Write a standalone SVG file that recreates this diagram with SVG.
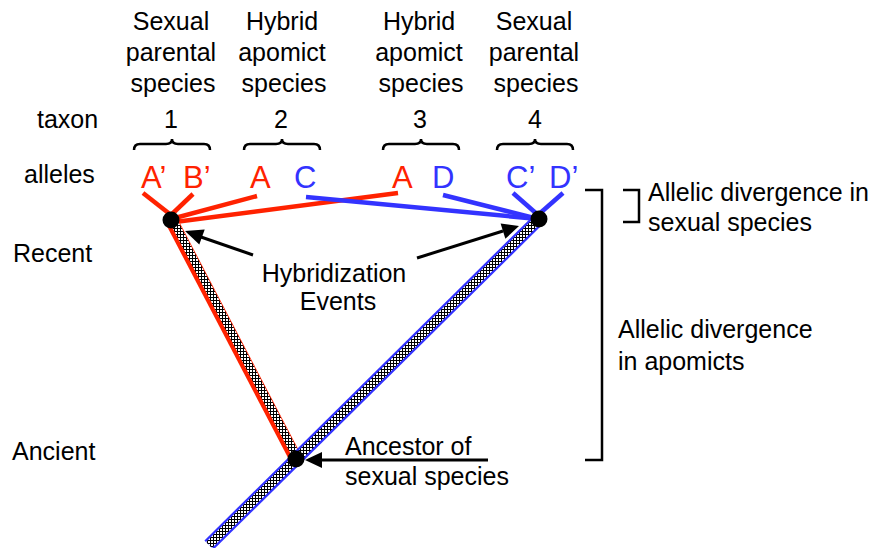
<svg xmlns="http://www.w3.org/2000/svg" width="879" height="548" viewBox="0 0 879 548">
<style>
text{font-family:"Liberation Sans",Arial,sans-serif;font-size:25px;fill:#000}
.c{text-anchor:middle}
.al{font-size:31px}
.r{fill:#FF2200}
.b{fill:#3333FF}
.rl{stroke:#FF2200;stroke-width:4.5;fill:none}
.bl{stroke:#3333FF;stroke-width:4.5;fill:none}
.k{stroke:#000;stroke-width:2.5;fill:none}
.ar{stroke:#000;stroke-width:3;fill:none}
</style>
<defs>
<pattern id="hatch" width="3" height="3" patternUnits="userSpaceOnUse">
<rect width="3" height="3" fill="#fff"/>
<rect width="3" height="1" fill="#000"/>
<rect width="1" height="3" fill="#000"/>
</pattern>
</defs>
<g id="labels">
<text x="171" y="30" class="c">Sexual</text>
<text x="171" y="61" class="c">parental</text>
<text x="173" y="92" class="c">species</text>
<text x="282" y="30" class="c">Hybrid</text>
<text x="282" y="61" class="c">apomict</text>
<text x="284" y="92" class="c">species</text>
<text x="419" y="30" class="c">Hybrid</text>
<text x="419" y="61" class="c">apomict</text>
<text x="421" y="92" class="c">species</text>
<text x="534" y="30" class="c">Sexual</text>
<text x="534" y="61" class="c">parental</text>
<text x="536" y="92" class="c">species</text>
<text x="37" y="128">taxon</text>
<text x="171" y="128" class="c">1</text>
<text x="281" y="128" class="c">2</text>
<text x="420" y="128" class="c">3</text>
<text x="535" y="128" class="c">4</text>
<text x="24" y="183">alleles</text>
<text x="13" y="262">Recent</text>
<text x="12" y="460">Ancient</text>
</g>
<g id="braces">
<path class="k" d="M134,150 Q134,144 140,144 L166,144 Q172,144 172,139 Q172,144 178,144 L204,144 Q210,144 210,150"/>
<path class="k" d="M244,150 Q244,144 250,144 L276,144 Q282,144 282,139 Q282,144 288,144 L314,144 Q320,144 320,150"/>
<path class="k" d="M383,150 Q383,144 389,144 L415,144 Q421,144 421,139 Q421,144 427,144 L453,144 Q459,144 459,150"/>
<path class="k" d="M497,150 Q497,144 503,144 L529,144 Q535,144 535,139 Q535,144 541,144 L567,144 Q573,144 573,150"/>
</g>
<g id="alleles">
<text x="141" y="188" class="al r">A’</text>
<text x="183" y="188" class="al r">B’</text>
<text x="250" y="188" class="al r">A</text>
<text x="294" y="188" class="al b">C</text>
<text x="392" y="188" class="al r">A</text>
<text x="432" y="188" class="al b">D</text>
<text x="506" y="188" class="al b">C’</text>
<text x="549" y="188" class="al b">D’</text>
</g>
<g id="connectors">
<line class="rl" x1="143" y1="193" x2="171" y2="215"/>
<line class="rl" x1="193" y1="194" x2="171" y2="215"/>
<line class="rl" x1="257" y1="196" x2="175" y2="218"/>
<line class="rl" x1="398" y1="193" x2="175" y2="222"/>
<line class="bl" x1="306" y1="197" x2="538" y2="219"/>
<line class="bl" x1="443" y1="195" x2="538" y2="219"/>
<line class="bl" x1="513" y1="193" x2="538" y2="215"/>
<line class="bl" x1="563" y1="193" x2="538" y2="215"/>
<line x1="171" y1="220" x2="296" y2="459" stroke="#FF2200" stroke-width="13"/>
<line x1="172.5" y1="219.2" x2="297.5" y2="458.2" stroke="url(#hatch)" stroke-width="8"/>
<line x1="209" y1="545" x2="540" y2="218" stroke="#3333FF" stroke-width="13"/>
<line x1="209" y1="545" x2="540" y2="218" stroke="url(#hatch)" stroke-width="8.5"/>
<line class="ar" x1="253" y1="255" x2="201" y2="237"/>
<polygon points="185,231 204.7,229.4 199.3,244.6" fill="#000"/>
<line class="ar" x1="417" y1="258" x2="503" y2="231"/>
<polygon points="519,226 500.6,223.5 505.4,238.7" fill="#000"/>
<line class="ar" x1="488" y1="460" x2="320" y2="460"/>
<polygon points="305,460 322,452 322,468" fill="#000"/>
</g>
<g id="node1"><circle cx="171" cy="220" r="8.5" fill="#000"/></g>
<g id="node4"><circle cx="539" cy="219" r="8.5" fill="#000"/></g>
<g id="ancestor"><circle cx="296" cy="459" r="8.5" fill="#000"/></g>
<g id="hybridization-label">
<text x="334" y="282" class="c">Hybridization</text>
<text x="338" y="310" class="c">Events</text>
</g>
<g id="ancestor-label">
<text x="345" y="455">Ancestor of</text>
<text x="345" y="485">sexual species</text>
</g>
<g id="brackets">
<path class="k" d="M585,190 L602,190 L602,460 L585,460"/>
<path class="k" d="M623,190 L639,190 L639,222 L623,222"/>
<text x="648" y="201">Allelic divergence in</text>
<text x="648" y="231">sexual species</text>
<text x="618" y="338">Allelic divergence</text>
<text x="618" y="370">in apomicts</text>
</g>
</svg>
